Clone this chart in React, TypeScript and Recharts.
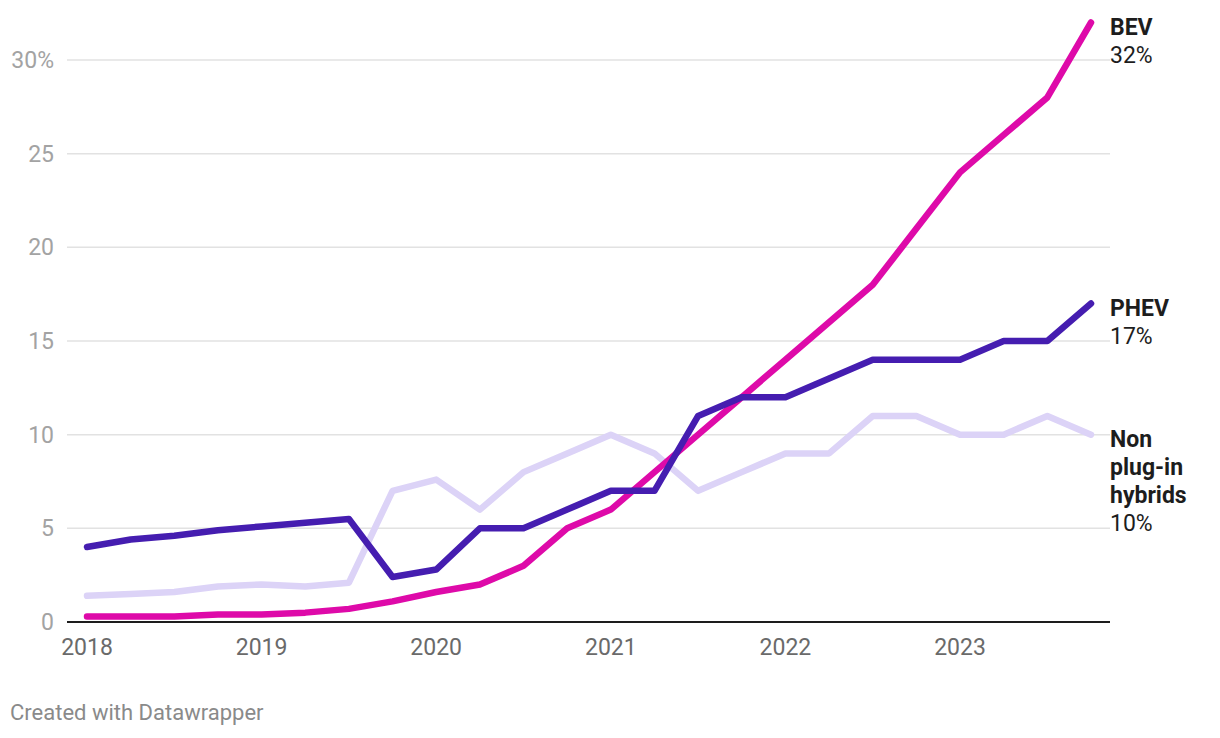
import React from "react";
import { LineChart, Line, XAxis, YAxis, CartesianGrid } from "recharts";

const quarters = [
  "2018 Q1", "2018 Q2", "2018 Q3", "2018 Q4",
  "2019 Q1", "2019 Q2", "2019 Q3", "2019 Q4",
  "2020 Q1", "2020 Q2", "2020 Q3", "2020 Q4",
  "2021 Q1", "2021 Q2", "2021 Q3", "2021 Q4",
  "2022 Q1", "2022 Q2", "2022 Q3", "2022 Q4",
  "2023 Q1", "2023 Q2", "2023 Q3", "2023 Q4",
];
const bev = [0.3, 0.3, 0.3, 0.4, 0.4, 0.5, 0.7, 1.1, 1.6, 2, 3, 5, 6, 8, 10, 12, 14, 16, 18, 21, 24, 26, 28, 32];
const phev = [4.0, 4.4, 4.6, 4.9, 5.1, 5.3, 5.5, 2.4, 2.8, 5, 5, 6, 7, 7, 11, 12, 12, 13, 14, 14, 14, 15, 15, 17];
const hybrid = [1.4, 1.5, 1.6, 1.9, 2.0, 1.9, 2.1, 7, 7.6, 6, 8, 9, 10, 9, 7, 8, 9, 9, 11, 11, 10, 10, 11, 10];
const xTicks = [0, 4, 8, 12, 16, 20];
const xTickLabels = ["2018", "2019", "2020", "2021", "2022", "2023"];
const yTicks = [0, 5, 10, 15, 20, 25, 30];
const yMax = 32;

const data = quarters.map((q, i) => ({ i, q, bev: bev[i], phev: phev[i], hybrid: hybrid[i] }));
const last = quarters.length - 1;

const FONT = "Roboto, sans-serif";

const makeLabel = (title: string[], valueText: string) => (props: any) => {
  const { x, y, index } = props;
  if (index !== last) return null;
  const lh = 28;
  return (
    <g>
      {title.map((t, k) => (
        <text key={k} x={x + 19} y={y + 12 + k * lh} fontFamily={FONT} fontSize={23} fontWeight={700} fill="#1d1d1d">
          {t}
        </text>
      ))}
      <text x={x + 19} y={y + 12 + title.length * lh} fontFamily={FONT} fontSize={23} fill="#1d1d1d">
        {valueText}
      </text>
    </g>
  );
};

const gridGen = (p: any) => {
  const s = p?.yAxis?.scale;
  return yTicks.map((t) => {
    if (typeof s === "function") return s(t);
    if (s && typeof s.map === "function") return s.map(t);
    const off = p.offset;
    return off.top + off.height * (1 - t / yMax);
  });
};

export default function App() {
  return (
    <div style={{ position: "absolute", left: 0, top: 0, width: 1220, height: 738, background: "#fff" }}>
      <LineChart
        width={1220}
        height={738}
        data={data}
        margin={{ top: 22.5, right: 110, bottom: 56, left: 0 }}
      >
        <CartesianGrid
          vertical={false}
          stroke="#e2e2e2"
          strokeWidth={1.5}
          horizontalCoordinatesGenerator={gridGen}
        />
        <XAxis
          dataKey="i"
          type="number"
          domain={[0, last]}
          ticks={xTicks}
          tickFormatter={(v: number) => xTickLabels[xTicks.indexOf(v)] ?? ""}
          padding={{ left: 20, right: 19 }}
          axisLine={{ stroke: "#1d1d1d", strokeWidth: 2 }}
          tickLine={false}
          tickSize={0}
          tickMargin={17}
          height={60}
          tick={{ fill: "#6a6a6a", fontSize: 23, fontFamily: FONT }}
          interval={0}
        />
        <YAxis
          type="number"
          domain={[0, yMax]}
          ticks={yTicks}
          tickFormatter={(v: number) => (v === 30 ? "30%" : String(v))}
          axisLine={false}
          tickLine={false}
          tickSize={0}
          tickMargin={13}
          width={67}
          tick={{ fill: "#a3a3a3", fontSize: 23, fontFamily: FONT }}
          interval={0}
        />
        <Line
          dataKey="hybrid"
          stroke="#dcd3f7"
          strokeWidth={6.5}
          dot={false}
          strokeLinecap="round"
          strokeLinejoin="round"
          isAnimationActive={false}
          label={makeLabel(["Non", "plug-in", "hybrids"], "10%")}
        />
        <Line
          dataKey="bev"
          stroke="#de0aa9"
          strokeWidth={6.5}
          dot={false}
          strokeLinecap="round"
          strokeLinejoin="round"
          isAnimationActive={false}
          label={makeLabel(["BEV"], "32%")}
        />
        <Line
          dataKey="phev"
          stroke="#451db0"
          strokeWidth={6.5}
          dot={false}
          strokeLinecap="round"
          strokeLinejoin="round"
          isAnimationActive={false}
          label={makeLabel(["PHEV"], "17%")}
        />
      </LineChart>
      <div
        style={{
          position: "absolute",
          left: 10,
          top: 700,
          fontFamily: FONT,
          fontSize: 22,
          color: "#8a8a8a",
          whiteSpace: "nowrap",
        }}
      >
        Created with Datawrapper
      </div>
    </div>
  );
}
